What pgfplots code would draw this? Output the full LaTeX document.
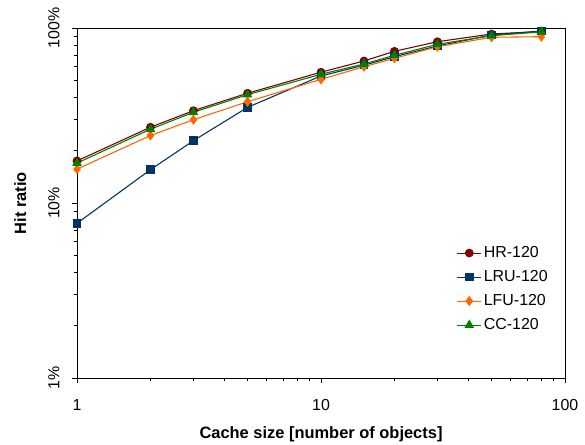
\documentclass[border=0pt]{standalone}
\usepackage{pgfplots}
\pgfplotsset{compat=1.18}
\usepackage{fontspec}
\setmainfont{Liberation Sans}

\definecolor{hrred}{HTML}{800000}
\definecolor{lrublue}{HTML}{003366}
\definecolor{lfuorange}{HTML}{FF6600}
\definecolor{ccgreen}{HTML}{008000}

\begin{document}
\begin{tikzpicture}[x=1bp,y=1bp]
\useasboundingbox (-77bp,-67bp) rectangle (508bp,378bp);
\begin{axis}[
    at={(0,0)}, anchor=south west,
    scale only axis,
    width=488bp, height=350bp,
    xmode=log, ymode=log,
    xmin=1, xmax=100,
    ymin=1, ymax=100,
    xtick={1,10,100},
    xticklabels={1,10,100},
    ytick={1,10,100},
    yticklabels={1\%,10\%,100\%},
    minor xtick={}, minor ytick={},
    tick pos=left,
    tick align=outside,
    major tick length=5bp,
    tick style={black, line width=0.8pt},
    axis line style={black, line width=0.9pt},
    /pgf/number format/assume math mode=true,
    tick label style={font=\fontsize{16}{18}\selectfont},
    yticklabel style={rotate=90, anchor=south, yshift=9bp},
    xticklabel style={yshift=-13bp},
    xlabel={\bfseries Cache size [number of objects]},
    ylabel={\bfseries Hit ratio},
    label style={font=\fontsize{16.5}{18}\selectfont},
    xlabel style={yshift=-9bp},
    ylabel style={yshift=15bp},
    legend style={at={(0.975,0.387)}, anchor=north east, draw=none, fill=none,
        font=\fontsize{16}{18}\selectfont, row sep=7.4bp},
    legend cell align=left,
    legend image code/.code={
        \draw[mark repeat=2,mark phase=2] plot coordinates {(0bp,0bp) (12bp,0bp) (24bp,0bp)};
    },
    every axis plot/.append style={line width=1.1pt},
]
\addplot[hrred, mark=*, mark size=3.8bp, mark options={fill=hrred}] coordinates {
(1,17.4)(2,27.1)(3,33.7)(5,42.4)(10,55.9)(15,64.8)(20,73.6)(30,83.5)(50,92.4)(80,95.5)};
\addlegendentry{HR-120}
\addplot[lrublue, mark=square*, mark size=3.7bp, mark options={fill=lrublue}] coordinates {
(1,7.66)(2,15.5)(3,22.7)(5,35.2)(10,53.2)(15,61.3)(20,68.6)(30,78.9)(50,91.2)(80,96.1)};
\addlegendentry{LRU-120}
\addplot[lfuorange, mark=diamond*, mark size=4.2bp, mark options={fill=lfuorange}] coordinates {
(1,15.6)(2,24.3)(3,29.9)(5,37.9)(10,50.9)(15,60.1)(20,67.1)(30,78.2)(50,88.5)(80,89.2)};
\addlegendentry{LFU-120}
\addplot[ccgreen, mark=triangle*, mark size=4.5bp, mark options={fill=ccgreen}] coordinates {
(1,16.9)(2,26.4)(3,33.0)(5,41.6)(10,54.4)(15,62.3)(20,69.8)(30,80.7)(50,90.4)(80,95.0)};
\addlegendentry{CC-120}
\end{axis}
\end{tikzpicture}
\end{document}
